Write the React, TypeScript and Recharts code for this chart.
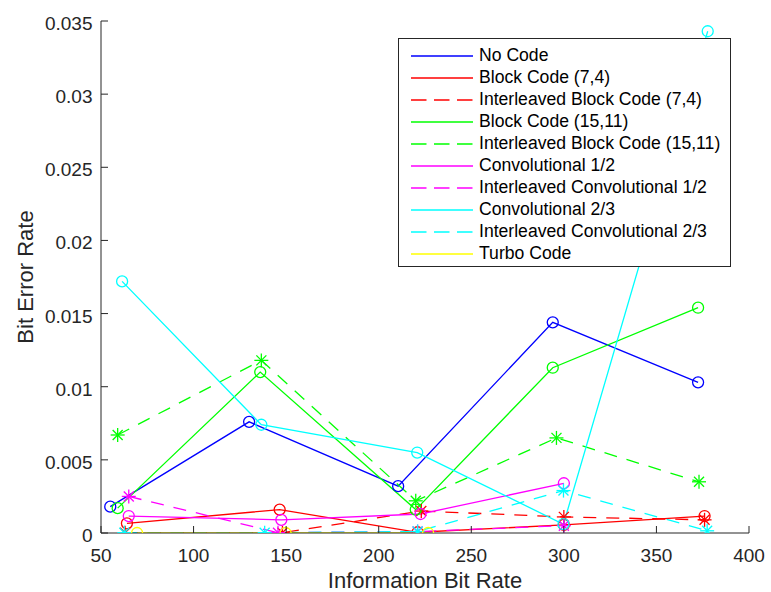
import { LineChart, Line, XAxis, YAxis, Legend } from "recharts";

const xTicks = [50, 100, 150, 200, 250, 300, 350, 400];
const yTicks = [0, 0.005, 0.01, 0.015, 0.02, 0.025, 0.03, 0.035];

const noCodeX = [55, 130, 210.5, 294, 372.5];
const noCodeY = [0.0018, 0.0076, 0.0032, 0.0144, 0.0103];

const block74X = [64, 146.5, 221, 300, 376];
const block74Y = [0.00066, 0.0016, 0.00005, 0.00055, 0.00116];

const iBlock74X = [63, 148, 223, 300, 376];
const iBlock74Y = [0.00002, 0.00002, 0.0015, 0.0011, 0.0009];

const block1511X = [59, 136, 220, 294, 372.5];
const block1511Y = [0.0017, 0.011, 0.0016, 0.0113, 0.0154];

const iBlock1511X = [59, 136.6, 220, 296, 373];
const iBlock1511Y = [0.0067, 0.0118, 0.0022, 0.0065, 0.0035];

const conv12X = [65, 147.4, 222.6, 300];
const conv12Y = [0.00116, 0.0009, 0.0013, 0.0034];

const iConv12X = [65, 145.6, 221, 300];
const iConv12Y = [0.0025, 0.00002, 0.0001, 0.0005];

const conv23X = [61.4, 136.6, 220.8, 299.8, 377.7];
const conv23Y = [0.0172, 0.0074, 0.0055, 0.0006, 0.0343];

const iConv23X = [62.6, 138.4, 221, 299.8, 377.4];
const iConv23Y = [0.00002, 0.00002, 0.0001, 0.0029, 0.00015];

const turboX = [69.5, 149.7, 226.7];
const turboY = [0, 0, 0];

const toPoints = (xs: number[], ys: number[]) => xs.map((x, i) => ({ x, y: ys[i] }));

const series = [
  { name: "No Code", color: "#0000FF", dashed: false, data: toPoints(noCodeX, noCodeY) },
  { name: "Block Code (7,4)", color: "#FF0000", dashed: false, data: toPoints(block74X, block74Y) },
  { name: "Interleaved Block Code (7,4)", color: "#FF0000", dashed: true, data: toPoints(iBlock74X, iBlock74Y) },
  { name: "Block Code (15,11)", color: "#00FF00", dashed: false, data: toPoints(block1511X, block1511Y) },
  { name: "Interleaved Block Code (15,11)", color: "#00FF00", dashed: true, data: toPoints(iBlock1511X, iBlock1511Y) },
  { name: "Convolutional 1/2", color: "#FF00FF", dashed: false, data: toPoints(conv12X, conv12Y) },
  { name: "Interleaved Convolutional 1/2", color: "#FF00FF", dashed: true, data: toPoints(iConv12X, iConv12Y) },
  { name: "Convolutional 2/3", color: "#00FFFF", dashed: false, data: toPoints(conv23X, conv23Y) },
  { name: "Interleaved Convolutional 2/3", color: "#00FFFF", dashed: true, data: toPoints(iConv23X, iConv23Y) },
  { name: "Turbo Code", color: "#FFFF00", dashed: false, data: toPoints(turboX, turboY) },
];

const FONT = "'Liberation Sans', Arial, sans-serif";
const AXIS = "#262626";
const DASH = "13 10";
const TICK = 7;

// open circle for plain series, asterisk for interleaved ones
const makeDot = (color: string, star: boolean) => (props: any) => {
  const { cx, cy, index } = props;
  if (cx == null || cy == null) return <g key={`e-${index}`} />;
  if (!star) {
    return <circle key={`c-${index}`} cx={cx} cy={cy} r={5.5} fill="none" stroke={color} strokeWidth={1.3} />;
  }
  const a = 7;
  const d = 5;
  return (
    <g key={`s-${index}`} stroke={color} strokeWidth={1.3}>
      <line x1={cx - a} y1={cy} x2={cx + a} y2={cy} />
      <line x1={cx} y1={cy - a} x2={cx} y2={cy + a} />
      <line x1={cx - d} y1={cy - d} x2={cx + d} y2={cy + d} />
      <line x1={cx - d} y1={cy + d} x2={cx + d} y2={cy - d} />
    </g>
  );
};

// MATLAB style ticks: short marks pointing into the plot box
const BottomTick = (props: any) => {
  const { x, y, payload } = props;
  const axisY = y - 16;
  return (
    <g>
      <line x1={x} x2={x} y1={axisY} y2={axisY - TICK} stroke={AXIS} />
      <text x={x} y={axisY + 29} textAnchor="middle" fill={AXIS} fontSize={19} fontFamily={FONT}>
        {payload.value}
      </text>
    </g>
  );
};

const LeftTick = (props: any) => {
  const { x, y, payload } = props;
  const axisX = x + 8;
  return (
    <g>
      <line x1={axisX} x2={axisX + TICK} y1={y} y2={y} stroke={AXIS} />
      <text x={axisX - 8.5} y={y + 9} textAnchor="end" fill={AXIS} fontSize={19} fontFamily={FONT}>
        {payload.value}
      </text>
    </g>
  );
};

const TopTick = (props: any) => {
  const { x, y } = props;
  return <line x1={x} x2={x} y1={y} y2={y + TICK} stroke={AXIS} />;
};

const RightTick = (props: any) => {
  const { x, y } = props;
  return <line x1={x} x2={x - TICK} y1={y} y2={y} stroke={AXIS} />;
};

const renderLegend = () => (
  <div
    style={{
      width: 333,
      height: 229,
      boxSizing: "border-box",
      border: `1px solid ${AXIS}`,
      background: "#fff",
      position: "relative",
      fontFamily: FONT,
    }}
  >
    {series.map((s, i) => (
      <div
        key={s.name}
        style={{
          position: "absolute",
          left: 0,
          top: 5.5 + i * 22,
          height: 22,
          display: "flex",
          alignItems: "center",
        }}
      >
        <svg width={80} height={22}>
          <line
            x1={12}
            x2={74}
            y1={11}
            y2={11}
            stroke={s.color}
            strokeWidth={1.3}
            strokeDasharray={s.dashed ? "15.5 7.5" : undefined}
          />
        </svg>
        <span style={{ fontSize: 17.6, color: "#000", whiteSpace: "nowrap" }}>{s.name}</span>
      </div>
    ))}
  </div>
);

export default function App() {
  return (
    <div style={{ position: "absolute", left: 0, top: 0, width: 771, height: 592, background: "#fff" }}>
      <LineChart width={771} height={592} margin={{ top: 21, right: 22, bottom: 0, left: 0 }}>
        <XAxis
          dataKey="x"
          type="number"
          domain={[50, 400]}
          ticks={xTicks}
          allowDataOverflow
          height={59}
          tickLine={false}
          tickSize={8}
          tickMargin={8}
          stroke={AXIS}
          tick={<BottomTick />}
          label={{
            content: (p: any) => (
              <text
                x={p.viewBox.x + p.viewBox.width / 2}
                y={588}
                textAnchor="middle"
                fill={AXIS}
                fontSize={22}
                fontFamily={FONT}
              >
                Information Bit Rate
              </text>
            ),
          }}
        />
        <XAxis
          xAxisId="top"
          orientation="top"
          type="number"
          domain={[50, 400]}
          ticks={xTicks}
          allowDataOverflow
          height={0}
          tickLine={false}
          tickSize={0}
          tickMargin={0}
          stroke={AXIS}
          tick={<TopTick />}
        />
        <YAxis
          dataKey="y"
          type="number"
          domain={[0, 0.035]}
          ticks={yTicks}
          allowDataOverflow
          width={101}
          tickLine={false}
          tickSize={4}
          tickMargin={4}
          stroke={AXIS}
          tick={<LeftTick />}
          label={{
            content: (p: any) => {
              const cy = p.viewBox.y + p.viewBox.height / 2;
              return (
                <text
                  x={33}
                  y={cy}
                  transform={`rotate(-90 33 ${cy})`}
                  textAnchor="middle"
                  fill={AXIS}
                  fontSize={22}
                  fontFamily={FONT}
                >
                  Bit Error Rate
                </text>
              );
            },
          }}
        />
        <YAxis
          yAxisId="right"
          orientation="right"
          type="number"
          domain={[0, 0.035]}
          ticks={yTicks}
          allowDataOverflow
          width={0}
          tickLine={false}
          tickSize={0}
          tickMargin={0}
          stroke={AXIS}
          tick={<RightTick />}
        />
        {series.map((s) => (
          <Line
            key={s.name}
            data={s.data}
            dataKey="y"
            name={s.name}
            stroke={s.color}
            strokeWidth={1.3}
            strokeDasharray={s.dashed ? DASH : undefined}
            dot={makeDot(s.color, s.dashed)}
            activeDot={false}
            isAnimationActive={false}
          />
        ))}
        <Legend
          layout="vertical"
          align="center"
          verticalAlign="middle"
          content={renderLegend}
          wrapperStyle={{ left: 398, top: 38, width: 333, height: 229 }}
        />
      </LineChart>
    </div>
  );
}
